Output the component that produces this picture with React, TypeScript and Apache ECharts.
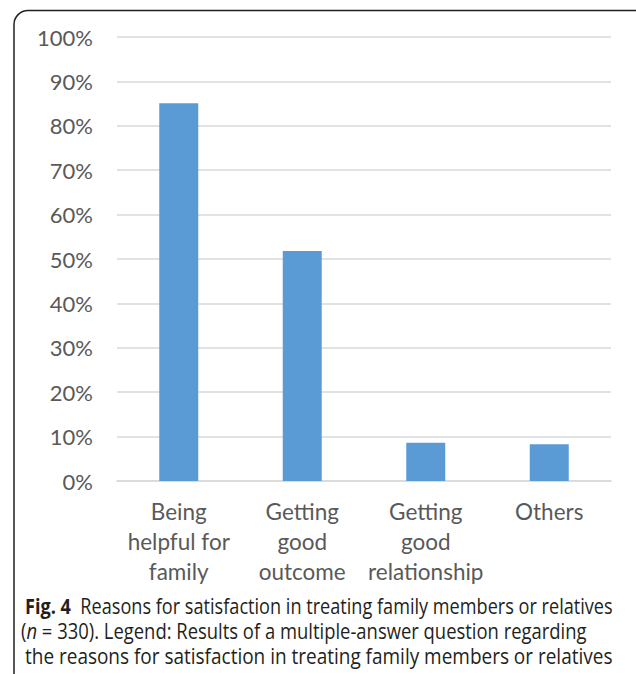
import React, { useEffect, useRef } from "react";
import * as echarts from "echarts";

// Reasons for satisfaction (multiple answers allowed), share of respondents in %
const categories = [
  "Being\nhelpful for\nfamily",
  "Getting\ngood\noutcome",
  "Getting\ngood\nrelationship",
  "Others",
];
const shares = [85.1, 51.8, 8.6, 8.3];

// caption runs: [text, style]
const captionLines: [string, "b" | "i" | "r"][][] = [
  [["Fig. 4", "b"], ["  Reasons for satisfaction in treating family members or relatives", "r"]],
  [["(", "r"], ["n", "i"], [" = 330). Legend: Results of a multiple-answer question regarding", "r"]],
  [["the reasons for satisfaction in treating family members or relatives", "r"]],
];
// left edge and right edge of each caption line in the column
const captionSpans = [
  [25, 613],
  [21, 587],
  [25, 613],
];

const CAPTION_FONT = '"Open Sans", "Noto Sans", sans-serif';
const CAPTION_SIZE = 21.5;
const LABEL_FONT = "Lato, sans-serif";

function measureRuns(runs: [string, string][]): number {
  const c = document.createElement("canvas");
  const ctx = c.getContext("2d");
  let w = 0;
  for (const [t, s] of runs) {
    if (!ctx) {
      w += t.length * 10;
      continue;
    }
    const pre = s === "b" ? "bold " : s === "i" ? "italic " : "";
    ctx.font = `${pre}${CAPTION_SIZE}px ${CAPTION_FONT}`;
    w += ctx.measureText(t).width;
  }
  return w;
}

export default function App() {
  const ref = useRef<HTMLDivElement>(null);

  useEffect(() => {
    if (!ref.current) return;
    const chart = echarts.init(ref.current, undefined, { renderer: "svg" });

    const rich = {
      b: { fontWeight: "bold", fontSize: CAPTION_SIZE, fontFamily: CAPTION_FONT, fill: "#231f20" },
      i: { fontStyle: "italic", fontSize: CAPTION_SIZE, fontFamily: CAPTION_FONT, fill: "#231f20" },
      r: { fontSize: CAPTION_SIZE, fontFamily: CAPTION_FONT, fill: "#231f20" },
    };

    // each caption line is squeezed to the width of the narrow text column
    const captionTexts = captionLines.map((runs, k) => {
      const [x0, x1] = captionSpans[k];
      const sx = (x1 - x0) / measureRuns(runs);
      return {
        type: "text",
        x: x0,
        y: 606 + k * 25,
        scaleX: sx,
        silent: true,
        style: {
          text: runs.map(([t, s]) => `{${s}|${t}}`).join(""),
          fill: "#231f20",
          fontFamily: CAPTION_FONT,
          fontSize: CAPTION_SIZE,
          verticalAlign: "middle",
          align: "left",
          rich,
        },
      };
    });

    chart.setOption({
      animation: false,
      backgroundColor: "#ffffff",
      grid: { left: 117, right: 25, top: 37, bottom: 193 },
      xAxis: {
        type: "category",
        data: categories,
        axisTick: { show: false },
        axisLine: { lineStyle: { color: "#d9d9d9", width: 1.5 } },
        axisLabel: {
          interval: 0,
          margin: 15,
          color: "#595959",
          fontFamily: LABEL_FONT,
          fontSize: 22.5,
          lineHeight: 30,
        },
      },
      yAxis: {
        type: "value",
        min: 0,
        max: 100,
        interval: 10,
        axisLine: { show: false },
        axisTick: { show: false },
        splitLine: { lineStyle: { color: "#d9d9d9", width: 1.5 } },
        axisLabel: {
          formatter: "{value}%",
          margin: 24,
          color: "#595959",
          fontFamily: LABEL_FONT,
          fontSize: 22,
        },
      },
      series: [
        {
          type: "bar",
          data: shares,
          barWidth: 39,
          itemStyle: { color: "#5b9bd5" },
        },
      ],
      graphic: [
        {
          type: "rect",
          shape: { x: 14, y: 10.5, width: 640, height: 720, r: 14 },
          style: { fill: "none", stroke: "#231f20", lineWidth: 1.5 },
          silent: true,
        },
        ...captionTexts,
      ],
    });

    return () => chart.dispose();
  }, []);

  return (
    <div
      ref={ref}
      style={{ position: "fixed", left: 0, top: 0, width: 636, height: 674, background: "#fff" }}
    />
  );
}
